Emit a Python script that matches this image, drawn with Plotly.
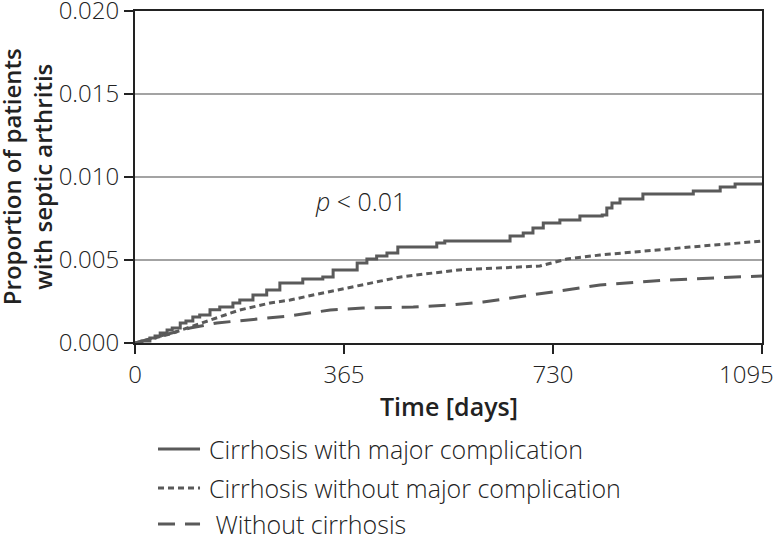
import plotly.graph_objects as go

# Cumulative incidence (days, proportion)
major_days = [0, 12, 26, 35, 44, 56, 65, 79, 89, 101, 113, 131, 148, 171, 183, 206, 230, 253,
              293, 328, 346, 388, 405, 422, 440, 459, 527, 541, 655, 678, 695, 713, 742, 777,
              816, 824, 833, 847, 887, 975, 1022, 1048, 1095]
major_vals = [0.0, 0.00012, 0.0003, 0.00042, 0.0006, 0.00078, 0.0009, 0.0012, 0.00133, 0.00157,
              0.00169, 0.002, 0.00217, 0.00241, 0.00259, 0.00289, 0.00319, 0.00361, 0.00386,
              0.00398, 0.0044, 0.00482, 0.00506, 0.00524, 0.00542, 0.00578, 0.00602, 0.00614,
              0.00645, 0.00663, 0.00693, 0.00723, 0.00741, 0.00765, 0.00771, 0.00813, 0.00843,
              0.00867, 0.00898, 0.00916, 0.0094, 0.00958, 0.00958]

minor_days = [0, 26, 61, 96, 131, 183, 236, 271, 311, 370, 414, 464, 565, 632, 707, 754, 812, 969, 1095]
minor_vals = [0.0, 0.00024, 0.00054, 0.00096, 0.00139, 0.00199, 0.00241, 0.00259, 0.00289,
              0.00331, 0.00361, 0.00398, 0.0044, 0.00452, 0.00464, 0.00506, 0.0053, 0.00578, 0.00614]

nocirr_days = [0, 44, 96, 143, 196, 271, 341, 398, 486, 550, 608, 725, 812, 929, 1095]
nocirr_vals = [0.0, 0.00042, 0.0009, 0.00121, 0.00139, 0.00163, 0.00199, 0.00211, 0.00217,
               0.00229, 0.00247, 0.00307, 0.00349, 0.00379, 0.00404]

series_names = ["Cirrhosis with major complication",
                "Cirrhosis without major complication",
                " Without cirrhosis"]
x_ticks = [0, 365, 730, 1095]
# last label pulled left so it stays inside the page, as in the source figure
x_labels = ["0", "365", "730", "1095" + "\u00a0" * 5]
y_ticks = [0.0, 0.005, 0.010, 0.015, 0.020]

line_col = "#5a5a5a"
txt_col = "#222222"
font_name = "Open Sans"
dot_dash = "6px,4px"
long_dash = "17px,10px"

fig = go.Figure()
fig.add_trace(go.Scatter(x=major_days, y=major_vals, mode="lines", line_shape="hv",
                         line=dict(color=line_col, width=3), name=series_names[0]))
fig.add_trace(go.Scatter(x=minor_days, y=minor_vals, mode="lines",
                         line=dict(color=line_col, width=3, dash=dot_dash), name=series_names[1]))
fig.add_trace(go.Scatter(x=nocirr_days, y=nocirr_vals, mode="lines",
                         line=dict(color=line_col, width=3, dash=long_dash), name=series_names[2]))

fig.update_layout(
    width=775, height=534,
    margin=dict(l=135, r=13, t=11, b=191, autoexpand=False),
    paper_bgcolor="white", plot_bgcolor="white",
    showlegend=False,
    font=dict(family=font_name, color=txt_col, size=24),
)
fig.update_xaxes(range=[0, 1095], tickvals=x_ticks, ticktext=x_labels, ticks="outside", ticklen=9,
                 tickwidth=2, tickcolor=txt_col, showline=True, linecolor=txt_col, linewidth=2,
                 mirror=True, showgrid=False, zeroline=False, automargin=False,
                 ticklabeloverflow="allow",
                 tickfont=dict(family=font_name, size=24, color=txt_col, weight=300))
fig.update_yaxes(range=[0, 0.020], tickvals=y_ticks, tickformat=".3f", ticks="outside", ticklen=9,
                 tickwidth=2, tickcolor=txt_col, showline=True, linecolor=txt_col, linewidth=2,
                 mirror=True, showgrid=True, gridcolor="#a3a3a3", gridwidth=2, zeroline=False,
                 automargin=False, ticklabeloverflow="allow",
                 tickfont=dict(family=font_name, size=24, color=txt_col, weight=300))

# axis titles
fig.add_annotation(text="Time [days]", x=0.5, y=-0.19, xref="paper", yref="paper",
                   showarrow=False, xanchor="center", yanchor="middle",
                   font=dict(size=25, family=font_name, color=txt_col, weight=600))
fig.add_annotation(text="Proportion of patients<br>with septic arthritis", x=-0.172, y=0.5,
                   xref="paper", yref="paper", showarrow=False, textangle=-90,
                   xanchor="center", yanchor="middle",
                   font=dict(size=24, family=font_name, color=txt_col, weight=600))
fig.add_annotation(text="<i>p</i> < 0.01", x=0.359, y=0.428, xref="paper", yref="paper",
                   showarrow=False, font=dict(size=25, family=font_name, color=txt_col, weight=300))

# manual legend below the plot
leg_y = [-0.3193, -0.4367, -0.5452]
leg_dash = ["solid", dot_dash, long_dash]
for name, yy, dash in zip(series_names, leg_y, leg_dash):
    fig.add_shape(type="line", xref="paper", yref="paper", x0=0.0367, x1=0.1037, y0=yy, y1=yy,
                  line=dict(color=line_col, width=3, dash=dash))
    fig.add_annotation(text=name, x=0.1148, y=yy, xref="paper", yref="paper", showarrow=False,
                       xanchor="left", yanchor="middle",
                       font=dict(size=25, family=font_name, color=txt_col, weight=300))

fig.write_html("out.html", config={"displayModeBar": False},
               post_script="document.body.style.margin='0';")
